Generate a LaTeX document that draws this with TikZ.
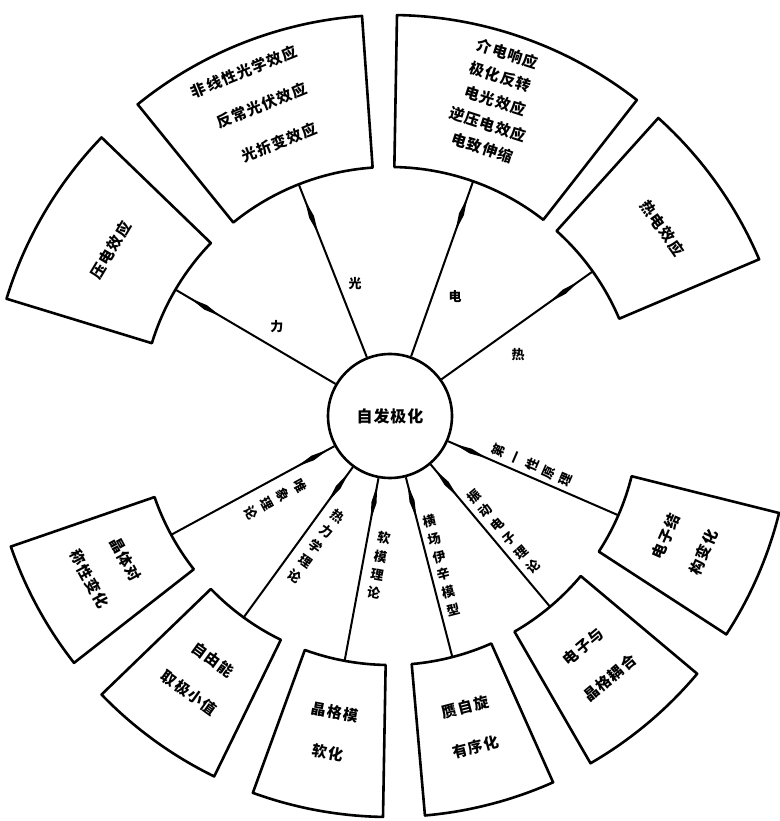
\documentclass[tikz,border=0pt]{standalone}
\usepackage{fontspec}
\setmainfont{Noto Sans CJK SC}
\usepackage{tikz}

\begin{document}
\begin{tikzpicture}[x=1pt, y=1pt,
    sector/.style={line width=2.6pt, line join=round},
    spoke/.style={line width=2pt},
    boxtext/.style={font=\fontsize{15}{17}\selectfont\bfseries\addfontfeature{LetterSpace=8}, inner sep=0pt},
    vlabel/.style={font=\fontsize{13}{18.5}\selectfont\bfseries, align=center, inner sep=0pt},
    hlabel/.style={font=\fontsize{13}{15}\selectfont\bfseries, inner sep=0pt}]

    \useasboundingbox (-390,-405) rectangle (389,416);

    % NUCLI: POLARITZACIO ESPONTANIA
    \node[draw, circle, line width=2.6pt, minimum size=124pt, inner sep=0pt,
          font=\fontsize{16}{18}\selectfont\bfseries\addfontfeature{LetterSpace=6}] (pol) {自发极化};

    % SECTORS (nom/inici/final)
    \foreach \n/\a/\b in {li/136/163, guang/94/129, dian/52/89, re/23/48,
                          wx/199/218, rl/224/244, rm/250/269, hc/275/294, zd/300/320, dy/327/346} {
        \draw[sector] (\a:249) arc[start angle=\a, end angle=\b, radius=249pt]
            -- (\b:401) arc[start angle=\b, end angle=\a, radius=401pt] -- cycle;
        \coordinate (\n) at ({(\a+\b)/2}:249);
    }

    % RADIS amb el seu engruiximent
    \foreach \n/\m/\p in {li/149.5/214, guang/111.5/214, dian/70.5/214, re/35.5/214,
                          wx/208.5/88, rl/234/88, rm/259.5/88, hc/284.5/88, zd/310/88, dy/336.5/88} {
        \draw[spoke] (pol) -- (\n);
        \fill[rotate=\m] ({\p-18},0) -- (\p,2.6) -- ({\p+18},0) -- (\p,-2.6) -- cycle;
    }

    % ETIQUETES DELS RADIS DE DALT
    \node[hlabel] (lli) at (141.8:144) {力};
    \node[hlabel] (lguang) at (104.7:137) {光};
    \node[hlabel] (ldian) at (61.4:136) {电};
    \node[hlabel] (lre) at (25.5:142) {热};

    % ETIQUETES DELS RADIS DE BAIX (text vertical girat)
    \foreach \n/\m/\r/\g/\t in {wx/216/142/-61.5/唯\\象\\理\\论,
                                rl/240.5/150/-36/热\\力\\学\\理\\论,
                                rm/265.7/150/-10.5/软\\模\\理\\论,
                                hc/289/158/14.5/横\\场\\伊\\辛\\模\\型,
                                zd/314.5/162/40/振\\动\\电\\子\\理\\论,
                                dy/341/150/66.5/第\\一\\性\\原\\理} {
        \node[vlabel, rotate=\g] (l\n) at (\m:\r) {\t};
    }

    % TEXTOS DELS SECTORS DE DALT
    \node[boxtext, rotate=59] (tli) at (149.3:325) {压电效应};
    \node[boxtext, rotate=22] (tguang1) at (113:374) {非线性光学效应};
    \node[boxtext, rotate=22] (tguang2) at (112.5:336) {反常光伏效应};
    \node[boxtext, rotate=22] (tguang3) at (112:295) {光折变效应};
    \node[boxtext, rotate=-18] (tdian1) at (72:381) {介电响应};
    \node[boxtext, rotate=-18] (tdian2) at (72:357) {极化反转};
    \node[boxtext, rotate=-18] (tdian3) at (71.5:332) {电光效应};
    \node[boxtext, rotate=-18] (tdian4) at (71.5:308) {逆压电效应};
    \node[boxtext, rotate=-18] (tdian5) at (71:284) {电致伸缩};
    \node[boxtext, rotate=-55] (tre) at (34.6:331) {热电效应};

    % TEXTOS DELS SECTORS DE BAIX (dues linies)
    \foreach \n/\m/\u/\v in {wx/208.5/晶体对/称性变化, rl/234/自由能/取极小值,
                             rm/259.5/晶格模/软化, hc/284.5/赝自旋/有序化,
                             zd/310/电子与/晶格耦合, dy/336.5/电子结/构变化} {
        \node[boxtext, rotate=\m-270] (t\n-a) at (\m:301) {\u};
        \node[boxtext, rotate=\m-270] (t\n-b) at (\m:342) {\v};
    }

\end{tikzpicture}
\end{document}
